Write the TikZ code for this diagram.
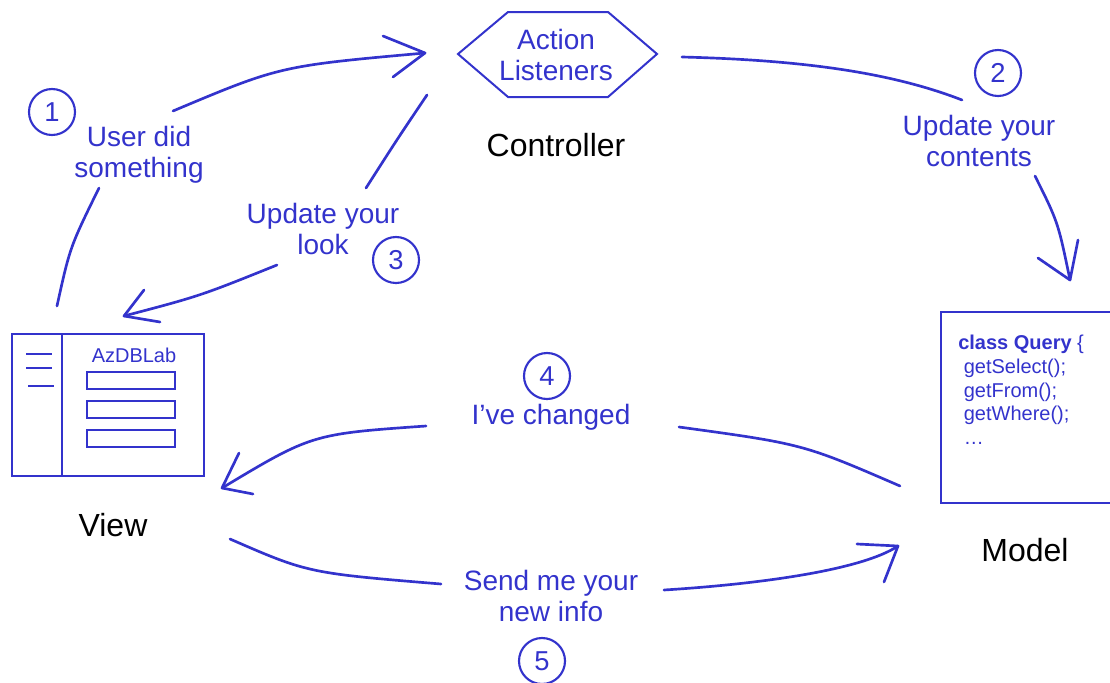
\documentclass[tikz,border=0pt]{standalone}
\usepackage{fontspec}
\setmainfont{Liberation Sans}
\definecolor{mvc}{RGB}{51,51,204}
\begin{document}
\begin{tikzpicture}[x=0.75pt,y=-0.75pt,
  flow/.style={draw=mvc, line width=2pt, line cap=round, line join=round},
  lbl/.style={text=mvc, font=\fontsize{21}{23.5}\selectfont, align=center, inner sep=0pt},
  role/.style={text=black, font=\fontsize{24}{28}\selectfont, inner sep=0pt},
  num/.style={circle, draw=mvc, line width=1.6pt, minimum size=34.5pt, inner sep=0pt, text=mvc, font=\fontsize{20.5}{24}\selectfont},
  frame/.style={draw=mvc, line width=1.7pt},
  field/.style={draw=mvc, line width=1.5pt}]
\useasboundingbox (0,0) rectangle (1110,682);
\clip (0,0) rectangle (1110,682);

% ---------- Controller ----------
\draw[field] (458,54) -- (508,12) -- (608,12) -- (657,54) -- (608,97) -- (508,97) -- cycle;
\node[lbl] (listen) at (556,55) {Action\\Listeners};
\node[role] (ctrl) at (556,145) {Controller};

% ---------- View ----------
\draw[frame] (12,334) rectangle (204,476);
\draw[frame] (62,334) -- (62,476);
\draw[frame] (26,354) -- (52,354);
\draw[frame] (26,368) -- (52,368);
\draw[frame] (28,386) -- (54,386);
\node[text=mvc, font=\fontsize{15}{18}\selectfont, inner sep=0pt] (az) at (134,355) {AzDBLab};
\draw[field] (87,372) rectangle (175,389);
\draw[field] (87,401) rectangle (175,418);
\draw[field] (87,430) rectangle (175,447);
\node[role] (view) at (113,525) {View};

% ---------- Model ----------
\draw[frame] (941,312) rectangle (1125,503);
\node[text=mvc, font=\fontsize{15}{17.8}\selectfont, align=left, inner sep=0pt, anchor=north west] (code) at (958,335)
  {\textbf{class Query} \{\\
   \ getSelect();\\
   \ getFrom();\\
   \ getWhere();\\
   \ \ldots};
\node[role] (model) at (1025,550) {Model};

% ---------- step numbers ----------
\node[num] (n1) at (52,112) {1};
\node[num] (n2) at (998,73) {2};
\node[num] (n3) at (396,260) {3};
\node[num] (n4) at (547,376) {4};
\node[num] (n5) at (542,661) {5};

% ---------- labels ----------
\node[lbl] (l1) at (139,155) {User did\\something};
\node[lbl] (l2) at (979,141) {Update your\\contents};
\node[lbl] (l3) at (323,229) {Update your\\look};
\node[lbl] (l4) at (551,417) {I’ve changed};
\node[lbl] (l5) at (551,596) {Send me your\\new info};

% ---------- connector coordinates ----------
\coordinate (a1s) at (57,306);  \coordinate (a1m) at (99,188);
\coordinate (a1n) at (173,111); \coordinate (a1t) at (425,53);
\coordinate (a1b) at (383,36);  \coordinate (a1c) at (393,77);

\coordinate (a2s) at (682,57);  \coordinate (a2m) at (962,100);
\coordinate (a2n) at (1035,176);\coordinate (a2t) at (1070,280);
\coordinate (a2b) at (1038,258);\coordinate (a2c) at (1078,240);

\coordinate (a3s) at (427,95);  \coordinate (a3m) at (366,188);
\coordinate (a3n) at (277,265); \coordinate (a3t) at (124,316);
\coordinate (a3b) at (144,290); \coordinate (a3c) at (160,322);

\coordinate (a4s) at (900,486); \coordinate (a4m) at (679,427);
\coordinate (a4n) at (426,426); \coordinate (a4t) at (222,488);
\coordinate (a4b) at (239,453); \coordinate (a4c) at (253,494);

\coordinate (a5s) at (230,539); \coordinate (a5m) at (441,584);
\coordinate (a5n) at (664,590); \coordinate (a5t) at (898,546);
\coordinate (a5b) at (857,544); \coordinate (a5c) at (884,582);

% ---------- connectors ----------
% 1: View -> Controller
\draw[flow] (a1s) .. controls (70,247) .. (a1m);
\draw[flow] (a1n) .. controls (280,66) .. (a1t);
\draw[flow] (a1b) -- (a1t) -- (a1c);
% 2: Controller -> Model
\draw[flow] (a2s) .. controls (800,60) and (890,72) .. (a2m);
\draw[flow] (a2n) .. controls (1058,222) .. (a2t);
\draw[flow] (a2b) -- (a2t) -- (a2c);
% 3: Controller -> View
\draw[flow] (a3s) .. controls (398,138) .. (a3m);
\draw[flow] (a3n) .. controls (200,296) .. (a3t);
\draw[flow] (a3b) -- (a3t) -- (a3c);
% 4: Model -> View
\draw[flow] (a4s) .. controls (803,444) .. (a4m);
\draw[flow] (a4n) .. controls (312,434) .. (a4t);
\draw[flow] (a4b) -- (a4t) -- (a4c);
% 5: View -> Model
\draw[flow] (a5s) .. controls (308,573) .. (a5m);
\draw[flow] (a5n) .. controls (760,584) and (862,570) .. (a5t);
\draw[flow] (a5b) -- (a5t) -- (a5c);
\end{tikzpicture}
\end{document}
